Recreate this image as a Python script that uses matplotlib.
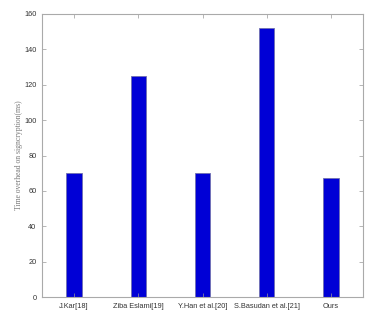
import numpy as np
import matplotlib
matplotlib.use("Agg")
import matplotlib.pyplot as plt

# schemes compared and their signcryption cost
schemes = ['J.Kar[18]', 'Ziba Eslami[19]', 'Y.Han et al.[20]', 'S.Basudan et al.[21]', 'Ours']
time_ms = [70, 125, 70, 152, 67]
y_ticks = [0, 20, 40, 60, 80, 100, 120, 140, 160]

fig = plt.figure(figsize=(3.77, 3.22), dpi=100)
ax = fig.add_axes([42 / 377, 25 / 322, 321 / 377, 283 / 322])

pos = np.arange(1, len(schemes) + 1)
ax.bar(pos, time_ms, width=0.24, color='#0000d6', edgecolor='#7070b0', linewidth=0.6)

ax.set_xlim(0.5, 5.5)
ax.set_ylim(0, 160)
ax.set_xticks(pos)
ax.set_xticklabels(schemes, fontsize=5.3, color='#333333', family='Liberation Sans')
ax.set_yticks(y_ticks)
ax.set_yticklabels([str(v) for v in y_ticks], fontsize=5.3, color='#333333',
                   family='Liberation Sans')

ax.tick_params(direction='in', length=3, width=0.5, color='#999999',
               top=True, right=True, pad=4)
for s in ax.spines.values():
    s.set_color('#aaaaaa')
    s.set_linewidth(0.8)

ax.set_ylabel('Time overhead on signcryption(ms)', fontsize=5.5, color='#777777',
              family='Liberation Serif', labelpad=1)

fig.savefig('out.png', dpi=100)
